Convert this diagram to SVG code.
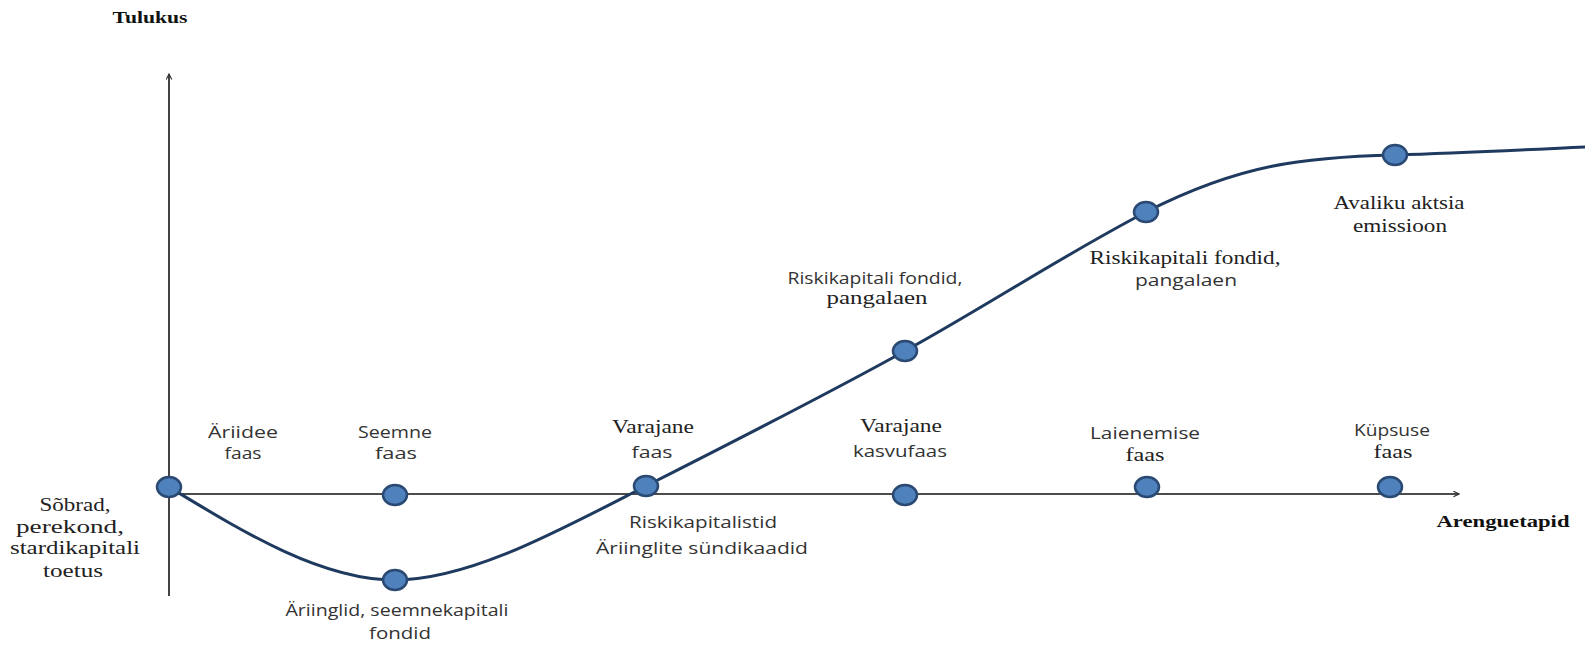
<svg xmlns="http://www.w3.org/2000/svg" width="1585" height="646" viewBox="0 0 1585 646">
<style>
text{text-anchor:middle}
.serif{font-family:"Liberation Serif","Times New Roman",serif;font-size:18px;fill:#222}
.sans{font-family:"Open Sans","Noto Sans",sans-serif;font-size:16.5px;fill:#333}
.bold{font-family:"Liberation Serif","Times New Roman",serif;font-size:17.5px;font-weight:bold;fill:#111}
.dot{fill:#4f81bd;stroke:#2a4a73;stroke-width:2.5}
.curve{fill:none;stroke:#1f3a5f;stroke-width:3}
</style>
<defs>
<marker id="chev" viewBox="0 0 10 10" refX="9" refY="5" markerWidth="7" markerHeight="7" orient="auto" markerUnits="userSpaceOnUse">
<path d="M1,1 L9,5 L1,9" fill="none" stroke="#333" stroke-width="1.6"/>
</marker>
</defs>
<rect width="1585" height="646" fill="#fff"/>
<g id="connectors">
<line x1="169" y1="596" x2="169" y2="74" stroke="#444" stroke-width="2" marker-end="url(#chev)"/>
<line x1="169" y1="494" x2="1459" y2="494" stroke="#111" stroke-width="1.5" marker-end="url(#chev)"/>
<path class="curve" d="M169,487 C240,530 320,580 395,580 C470,580 560,530 646,486 C735,441 820,398 905,351 C990,304 1060,257 1146,212 C1240,164 1305,157 1395,155 C1460,153 1520,150 1585,147"/>
</g>
<g id="axis-labels">
<text class="bold" x="150" y="23" textLength="75" lengthAdjust="spacingAndGlyphs">Tulukus</text>
<text class="bold" x="1503" y="527" textLength="133" lengthAdjust="spacingAndGlyphs">Arenguetapid</text>
</g>
<g id="n-start">
<ellipse class="dot" cx="169" cy="487" rx="12" ry="10"/>
<text class="serif" x="75" y="511" textLength="71" lengthAdjust="spacingAndGlyphs">Sõbrad,</text>
<text class="serif" x="70" y="533" textLength="108" lengthAdjust="spacingAndGlyphs">perekond,</text>
<text class="serif" x="75" y="554" textLength="130" lengthAdjust="spacingAndGlyphs">stardikapitali</text>
<text class="serif" x="73" y="577" textLength="60" lengthAdjust="spacingAndGlyphs">toetus</text>
</g>
<g id="n-ariidee">
<text class="sans" x="243" y="438" textLength="70" lengthAdjust="spacingAndGlyphs">Äriidee</text>
<text class="sans" x="243" y="459" textLength="37" lengthAdjust="spacingAndGlyphs">faas</text>
</g>
<g id="n-seemne">
<ellipse class="dot" cx="395" cy="495" rx="12" ry="10"/>
<text class="sans" x="395" y="438" textLength="74" lengthAdjust="spacingAndGlyphs">Seemne</text>
<text class="sans" x="396" y="459" textLength="42" lengthAdjust="spacingAndGlyphs">faas</text>
</g>
<g id="n-ariinglid">
<ellipse class="dot" cx="395" cy="580" rx="12" ry="10"/>
<text class="sans" x="397" y="616" textLength="223" lengthAdjust="spacingAndGlyphs">Äriinglid, seemnekapitali</text>
<text class="sans" x="400" y="639" textLength="62" lengthAdjust="spacingAndGlyphs">fondid</text>
</g>
<g id="n-varajane">
<ellipse class="dot" cx="646" cy="486" rx="12" ry="10"/>
<text class="serif" x="653" y="433" textLength="82" lengthAdjust="spacingAndGlyphs">Varajane</text>
<text class="sans" x="652" y="458" textLength="41" lengthAdjust="spacingAndGlyphs">faas</text>
<text class="sans" x="703" y="528" textLength="148" lengthAdjust="spacingAndGlyphs">Riskikapitalistid</text>
<text class="sans" x="702" y="554" textLength="212" lengthAdjust="spacingAndGlyphs">Äriinglite sündikaadid</text>
</g>
<g id="n-kasvufaas">
<ellipse class="dot" cx="905" cy="495" rx="12" ry="10"/>
<text class="serif" x="901" y="432" textLength="82" lengthAdjust="spacingAndGlyphs">Varajane</text>
<text class="sans" x="900" y="457" textLength="94" lengthAdjust="spacingAndGlyphs">kasvufaas</text>
</g>
<g id="n-rk1">
<ellipse class="dot" cx="905" cy="351" rx="12" ry="10"/>
<text class="sans" x="875" y="284" textLength="175" lengthAdjust="spacingAndGlyphs">Riskikapitali fondid,</text>
<text class="serif" x="877" y="304" textLength="101" lengthAdjust="spacingAndGlyphs">pangalaen</text>
</g>
<g id="n-laienemise">
<ellipse class="dot" cx="1147" cy="487" rx="12" ry="10"/>
<text class="sans" x="1145" y="439" textLength="110" lengthAdjust="spacingAndGlyphs">Laienemise</text>
<text class="serif" x="1145" y="461" textLength="39" lengthAdjust="spacingAndGlyphs">faas</text>
</g>
<g id="n-rk2">
<ellipse class="dot" cx="1146" cy="212" rx="12" ry="10"/>
<text class="serif" x="1185" y="264" textLength="191" lengthAdjust="spacingAndGlyphs">Riskikapitali fondid,</text>
<text class="sans" x="1186" y="286" textLength="102" lengthAdjust="spacingAndGlyphs">pangalaen</text>
</g>
<g id="n-kupsuse">
<ellipse class="dot" cx="1390" cy="487" rx="12" ry="10"/>
<text class="sans" x="1392" y="436" textLength="76" lengthAdjust="spacingAndGlyphs">Küpsuse</text>
<text class="serif" x="1393" y="458" textLength="39" lengthAdjust="spacingAndGlyphs">faas</text>
</g>
<g id="n-avaliku">
<ellipse class="dot" cx="1395" cy="155" rx="12" ry="10"/>
<text class="serif" x="1399" y="209" textLength="131" lengthAdjust="spacingAndGlyphs">Avaliku aktsia</text>
<text class="serif" x="1400" y="232" textLength="94" lengthAdjust="spacingAndGlyphs">emissioon</text>
</g>
</svg>
